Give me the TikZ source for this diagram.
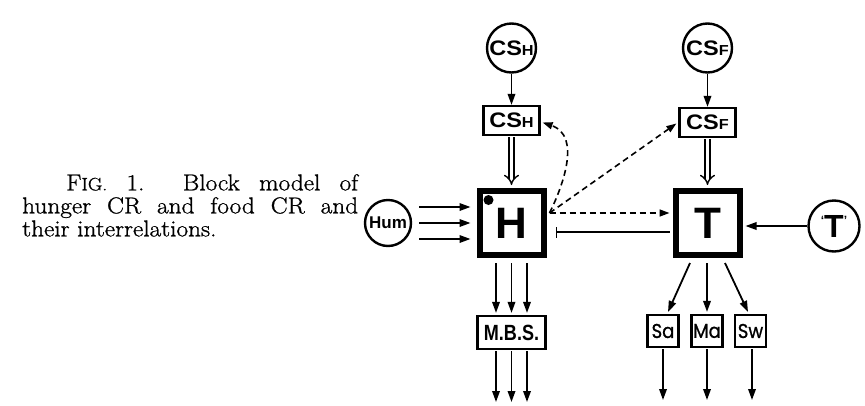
\documentclass[tikz,border=0pt]{standalone}
\usepackage{fontspec}
\usepackage{graphicx}
\newfontfamily\lsans{Liberation Sans}
\newfontfamily\popp{Poppins}[FakeBold=1]
\newfontfamily\capfont{Latin Modern Roman}[FakeBold=1,FakeStretch=1.1]
\usetikzlibrary{arrows.meta,calc}
\newcommand\csl[1]{\scalebox{1.12}[1]{\fontsize{21}{21}\selectfont CS\fontsize{14.5}{14.5}\selectfont #1}}
\newcommand\oblab[1]{\scalebox{0.9}[1]{#1}}
\begin{document}
\begin{tikzpicture}[x=1pt,y=-1pt,
  circ/.style={circle,draw,line width=2.4pt,minimum size=49pt,inner sep=0pt,font=\lsans\bfseries},
  sbox/.style={draw,line width=2.2pt,minimum width=56pt,minimum height=29pt,inner sep=0pt,font=\lsans\bfseries},
  bigbox/.style={draw,line width=6pt,minimum size=64pt,inner sep=0pt,font=\lsans\bfseries\fontsize{44}{44}\selectfont},
  obox/.style={draw,line width=2.2pt,minimum width=31pt,minimum height=32pt,inner sep=0pt,font=\popp\fontsize{20}{20}\selectfont},
  arr/.style={line width=1.8pt,-{Triangle[length=11pt,width=7.5pt]}},
  darr/.style={line width=1.6pt,dash pattern=on 6pt off 4pt,-{Triangle[length=10pt,width=7pt]}},
  dbl/.style={line width=1.4pt,double distance=3.8pt,-{Implies[scale=1.25]}},
]
\useasboundingbox (0,0) rectangle (865,405);

% caption
\node[anchor=north west,inner sep=0pt,text width=336pt,align=justify,
      font=\capfont\fontsize{23}{23}\selectfont] (cap) at (22,174)
  {\hspace*{44pt}F{\fontsize{18}{18}\selectfont IG.} 1.\ \ Block model of\linebreak
   hunger CR and food CR and\linebreak their interrelations.};

% nodes
\node[circ] (csHc) at (511.5,48) {\csl{H}};
\node[sbox] (csHb) at (511.5,120.5) {\csl{H}};
\node[circ] (csFc) at (707.5,48) {\csl{F}};
\node[sbox] (csFb) at (707.5,122.5) {\csl{F}};
\node[bigbox] (H) at (511.5,223) {H};
\node[bigbox] (T) at (707.5,223) {T};
\fill ($(H.north west)+(12,12)$) circle (5pt);
\node[circ,minimum size=46pt,font=\lsans\bfseries\fontsize{17}{17}\selectfont] (Hum) at (388,223) {Hum};
\node[circ,minimum size=51pt] (Tq) at (834,226)
  {{\fontsize{12}{12}\selectfont\raisebox{13pt}{‘}}\fontsize{32}{32}\selectfont T{\fontsize{12}{12}\selectfont\raisebox{13pt}{’}}};
\node[draw,line width=2.2pt,minimum width=68pt,minimum height=33pt,inner sep=0pt,
      font=\lsans\bfseries\fontsize{22}{22}\selectfont] (MBS) at (511.5,332.5) {\scalebox{0.82}[1]{M.B.S.}};
\node[obox] (Sa) at (663,331) {\oblab{Sa}};
\node[obox] (Ma) at (707,331) {\oblab{Ma}};
\node[obox] (Sw) at (750.5,331) {\oblab{Sw}};

\coordinate (m1) at (496,402);
\coordinate (m2) at (511.5,402);
\coordinate (m3) at (527,402);
\coordinate (s1) at (663,400);
\coordinate (s2) at (707,400);
\coordinate (s3) at (752,400);

% vertical connectors
\draw[arr] (csHc.south) -- (csHb.north);
\draw[arr] (csFc.south) -- (csFb.north);
\draw[dbl] ($(csHb.south)+(0,1)$) -- ($(H.north)+(0,-3)$);
\draw[dbl] ($(csFb.south)+(0,1)$) -- ($(T.north)+(0,-3)$);

% Hum inputs
\foreach \d in {-16,0,16}
  \draw[arr] ($(Hum.east)+(7,\d)$) -- ($(H.west)+(-6,\d)$);

% T' input
\draw[arr] (Tq.west) -- ($(Tq.west -| T.east)+(3,0)$);

% H outputs
\foreach \d/\e in {-15.5/m1,0/m2,15.5/m3}{
  \draw[arr] ($(H.south)+(\d,5)$) -- ($(MBS.north)+(\d,-2)$);
  \draw[arr] ($(MBS.south)+(\d,1)$) -- (\e);
}

% T outputs
\draw[arr] ($(T.south)+(-17.5,5)$) -- ($(Sa.north)+(5,-2)$);
\draw[arr] ($(T.south)+(-0.5,5)$) -- ($(Ma.north)+(0,-2)$);
\draw[arr] ($(T.south)+(17.5,5)$) -- ($(Sw.north)+(-2.5,-2)$);
\draw[arr] ($(Sa.south)+(0,1)$) -- (s1);
\draw[arr] ($(Ma.south)+(0,1)$) -- (s2);
\draw[arr] ($(Sw.south)+(1.5,1)$) -- (s3);

% dashed connections from H
\coordinate (hd) at ($(H.east)+(3,-10)$);
\draw[darr] (hd) -- ($(T.west)+(-3,-10)$);
\draw[darr] (hd) -- ($(csFb.west)+(-2,1)$);
\draw[darr] (hd) .. controls (562,188) and (582,136) .. ($(csHb.east)+(2,2)$);

% inhibitory line T -> H
\draw[line width=1.8pt,{Bar[width=11pt]}-] ($(H.east)+(9,9)$) -- ($(T.west)+(-3,9)$);
\end{tikzpicture}
\end{document}
